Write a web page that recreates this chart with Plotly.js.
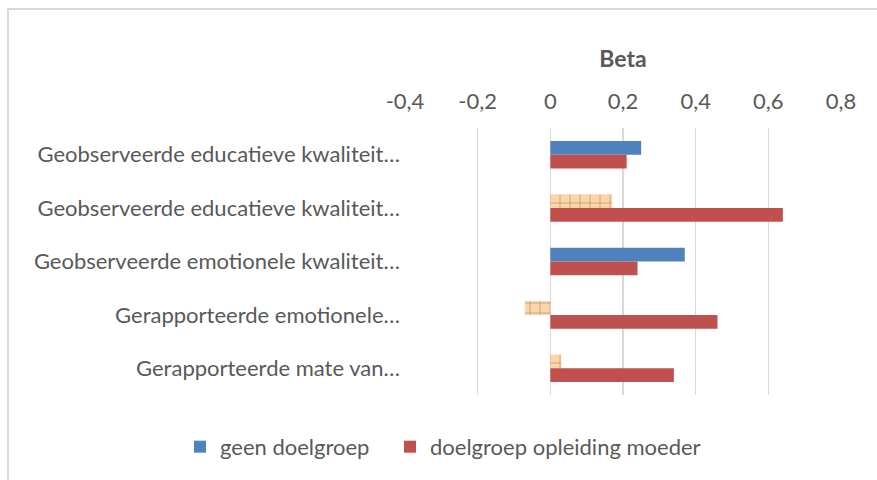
<!DOCTYPE html>
<html>
<head>
<meta charset="utf-8">
<script src="https://cdn.plot.ly/plotly-3.0.1.min.js"></script>
<style>
  html, body { margin: 0; padding: 0; background: #ffffff; }
  #frame { position: absolute; left: 7px; top: 8px; width: 880px; height: 480px;
           border-left: 2px solid #d9d9d9; border-top: 2px solid #d9d9d9; }
  #chart { position: absolute; left: 0; top: 0; width: 877px; height: 480px; }
</style>
</head>
<body>
<div id="frame"></div>
<div id="chart"></div>
<script>
const categories = [
  "Geobserveerde educatieve kwaliteit…",
  "Geobserveerde educatieve kwaliteit…",
  "Geobserveerde emotionele kwaliteit…",
  "Gerapporteerde emotionele…",
  "Gerapporteerde mate van…"
];
const seriesNames = ["geen doelgroep", "doelgroep opleiding moeder"];
const geenDoelgroep = [0.25, 0.17, 0.37, -0.07, 0.03];
const geenSignificant = [true, false, true, false, false];
const doelgroepOpleiding = [0.21, 0.64, 0.24, 0.46, 0.34];
const tickVals = [-0.4, -0.2, 0, 0.2, 0.4, 0.6, 0.8];
const tickText = ["-0,4", "-0,2", "0", "0,2", "0,4", "0,6", "0,8"];

const blue = "#4f81bd", red = "#c0504d", lightOrange = "#fdd5a6", orangeLine = "#f7b15c";

const traces = [
  {
    type: "bar", orientation: "h", name: seriesNames[0], legend: "legend",
    y: categories.map((c, i) => i), x: geenDoelgroep,
    marker: {
      color: geenSignificant.map(s => s ? blue : lightOrange),
      line: { width: 0 },
      pattern: {
        shape: geenSignificant.map(s => s ? "" : "+"),
        fillmode: "overlay",
        fgcolor: orangeLine, size: 10, solidity: 0.12
      }
    },
    hoverinfo: "x"
  },
  {
    type: "bar", orientation: "h", name: seriesNames[1], legend: "legend2",
    y: categories.map((c, i) => i), x: doelgroepOpleiding,
    marker: { color: red, line: { width: 0 } },
    hoverinfo: "x"
  }
];

const legendBase = {
  orientation: "h", xref: "container", yref: "container",
  xanchor: "left", y: 0.069, yanchor: "middle",
  font: { size: 22, color: "#595959" }, bgcolor: "rgba(0,0,0,0)"
};

const layout = {
  width: 877, height: 480,
  margin: { l: 405, r: 36, t: 128, b: 85, autoexpand: false },
  paper_bgcolor: "rgba(0,0,0,0)", plot_bgcolor: "rgba(0,0,0,0)",
  font: { family: "Lato, 'Open Sans', sans-serif", color: "#595959", size: 22 },
  barmode: "group", bargap: 0.485, bargroupgap: 0,
  showlegend: true,
  legend: Object.assign({}, legendBase, { x: 180 / 877 }),
  legend2: Object.assign({}, legendBase, { x: 390 / 877 }),
  xaxis: {
    side: "top", range: [-0.4, 0.8], tickvals: tickVals, ticktext: tickText,
    showgrid: true, gridcolor: "#d9d9d9", gridwidth: 1.5,
    zeroline: true, zerolinecolor: "#d9d9d9", zerolinewidth: 1.5,
    showline: false, ticks: "", ticklabelstandoff: 14,
    tickfont: { size: 22, color: "#595959" },
    title: { text: "<b>Beta</b>", font: { size: 23, color: "#595959" }, standoff: 12 }
  },
  yaxis: {
    autorange: "reversed", tickmode: "array",
    tickvals: categories.map((c, i) => i), ticktext: categories,
    showgrid: false, zeroline: false, showline: false, ticks: "",
    ticklabelstandoff: 4,
    tickfont: { size: 22, color: "#595959" }
  }
};

Plotly.newPlot("chart", traces, layout, { displayModeBar: false, staticPlot: true });
</script>
</body>
</html>
